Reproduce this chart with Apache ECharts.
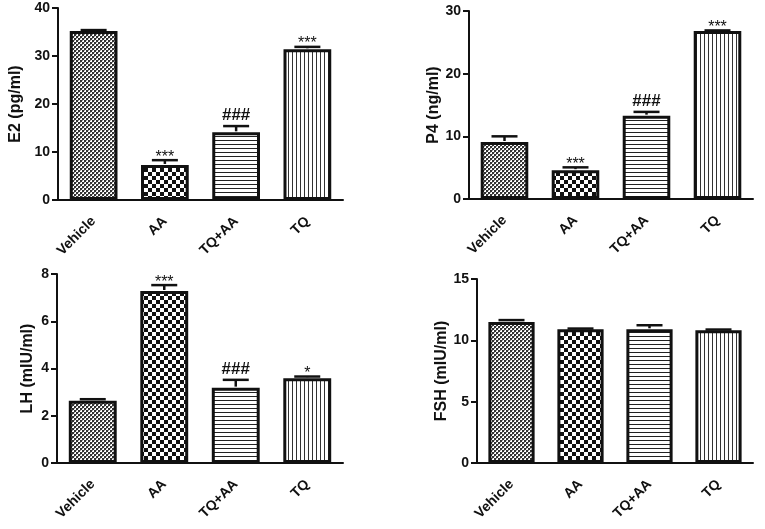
<!DOCTYPE html>
<html>
<head>
<meta charset="utf-8">
<script src="https://cdn.jsdelivr.net/npm/echarts@6/dist/echarts.min.js"></script>
<style>
html,body{margin:0;padding:0;background:#fff;}
#c{width:765px;height:529px;}
</style>
</head>
<body>
<div id="c"></div>
<script>
// ---- data ----
const categories = ['Vehicle', 'AA', 'TQ+AA', 'TQ'];

const e2Mean = [35.2, 7.3, 14.1, 31.4];
const e2Err  = [0.2, 1.0, 1.3, 0.5];
const e2Sig  = ['', '***', '###', '***'];

const p4Mean = [9.1, 4.6, 13.3, 26.8];
const p4Err  = [0.9, 0.45, 0.6, 0.1];
const p4Sig  = ['', '***', '###', '***'];

const lhMean = [2.64, 7.28, 3.19, 3.59];
const lhErr  = [0.06, 0.25, 0.33, 0.07];
const lhSig  = ['', '***', '###', '*'];

const fshMean = [11.5, 10.9, 10.9, 10.83];
const fshErr  = [0.15, 0.06, 0.33, 0.05];
const fshSig  = ['', '', '', ''];

const yNames = ['E2 (pg/ml)', 'P4 (ng/ml)', 'LH (mIU/ml)', 'FSH (mIU/ml)'];
const yMax = [40, 30, 8, 15];
const yInterval = [10, 10, 2, 5];

// ---- patterns ----
function makeCanvas(w, h, draw) {
  const c = document.createElement('canvas');
  c.width = w; c.height = h;
  const ctx = c.getContext('2d');
  ctx.fillStyle = '#fff'; ctx.fillRect(0, 0, w, h);
  draw(ctx);
  return c;
}
const patVehicle = makeCanvas(4, 4, ctx => {
  ctx.fillStyle = '#333';
  ctx.fillRect(0, 0, 2, 2); ctx.fillRect(2, 2, 2, 2);
  ctx.fillStyle = '#999';
  ctx.fillRect(2, 0, 1, 1); ctx.fillRect(0, 2, 1, 1);
});
const patAA = makeCanvas(8, 8, ctx => {
  ctx.fillStyle = '#111';
  ctx.fillRect(0, 0, 4, 4); ctx.fillRect(4, 4, 4, 4);
});
const patTQAA = makeCanvas(4, 4, ctx => {
  ctx.fillStyle = '#222';
  ctx.fillRect(0, 0, 4, 1);
});
const patTQ = makeCanvas(4, 4, ctx => {
  ctx.fillStyle = '#333';
  ctx.fillRect(0, 0, 1, 4);
});
const patterns = [patVehicle, patAA, patTQAA, patTQ];

const grids = [
  {left: 58, top: 8, width: 285, height: 192},
  {left: 469, top: 11, width: 284, height: 188},
  {left: 57, top: 274, width: 286, height: 189},
  {left: 477, top: 279, width: 276, height: 184}
];
const nameGaps = [34, 24, 21, 25];

const FONT = 'Liberation Sans, Arial, sans-serif';

const panels = [
  [e2Mean, e2Err, e2Sig],
  [p4Mean, p4Err, p4Sig],
  [lhMean, lhErr, lhSig],
  [fshMean, fshErr, fshSig]
];

const xAxes = [], yAxes = [], series = [];
panels.forEach((p, i) => {
  xAxes.push({
    type: 'category', gridIndex: i, data: categories, boundaryGap: true,
    axisLine: {lineStyle: {color: '#111', width: 2}},
    axisTick: {alignWithLabel: true, length: 6, lineStyle: {color: '#111', width: 2}},
    axisLabel: {rotate: 45, margin: 19, color: '#111', fontWeight: 'bold', fontSize: 14, fontFamily: FONT}
  });
  yAxes.push({
    type: 'value', gridIndex: i, min: 0, max: yMax[i], interval: yInterval[i],
    name: yNames[i], nameLocation: 'middle', nameGap: nameGaps[i],
    nameTextStyle: {color: '#111', fontWeight: 'bold', fontSize: 16, fontFamily: FONT},
    axisLine: {show: true, lineStyle: {color: '#111', width: 2}},
    axisTick: {show: true, length: 6, lineStyle: {color: '#111', width: 2}},
    axisLabel: {margin: 8, color: '#111', fontWeight: 'bold', fontSize: 14, fontFamily: FONT},
    splitLine: {show: false}
  });
  const mean = p[0], err = p[1], sig = p[2];
  series.push({
    type: 'bar', xAxisIndex: i, yAxisIndex: i, barWidth: '67%',
    data: mean.map((v, k) => ({
      value: v,
      itemStyle: {color: {image: patterns[k], repeat: 'repeat'}, borderColor: '#111', borderWidth: 3}
    })),
    silent: true, z: 2
  });
  series.push({
    type: 'custom', xAxisIndex: i, yAxisIndex: i, z: 3, silent: true,
    data: mean.map((v, k) => [k, v, err[k]]),
    renderItem: function (params, api) {
      const x = api.value(0), m = api.value(1), e = api.value(2);
      const p0 = api.coord([x, m]);
      const p1 = api.coord([x, m + e]);
      const half = 13;
      const children = [
        {type: 'line', shape: {x1: p0[0], y1: p0[1] - 1, x2: p1[0], y2: p1[1]}, style: {stroke: '#111', lineWidth: 2.5}},
        {type: 'line', shape: {x1: p1[0] - half, y1: p1[1], x2: p1[0] + half, y2: p1[1]}, style: {stroke: '#111', lineWidth: 2.5}}
      ];
      const s = sig[params.dataIndex];
      if (s) {
        const isHash = s.indexOf('#') >= 0;
        children.push({
          type: 'text',
          style: {
            text: s, x: p1[0], y: p1[1] - (isHash ? 11 : 3),
            align: 'center', verticalAlign: 'middle',
            fontSize: isHash ? 17 : 16, fontWeight: isHash ? 'bold' : 'normal',
            fontFamily: FONT, fill: '#111'
          }
        });
      }
      return {type: 'group', children: children};
    }
  });
});

const chart = echarts.init(document.getElementById('c'), null, {renderer: 'canvas'});
chart.setOption({
  backgroundColor: '#fff',
  animation: false,
  grid: grids.map(g => Object.assign({containLabel: false}, g)),
  xAxis: xAxes,
  yAxis: yAxes,
  series: series
});
</script>
</body>
</html>
